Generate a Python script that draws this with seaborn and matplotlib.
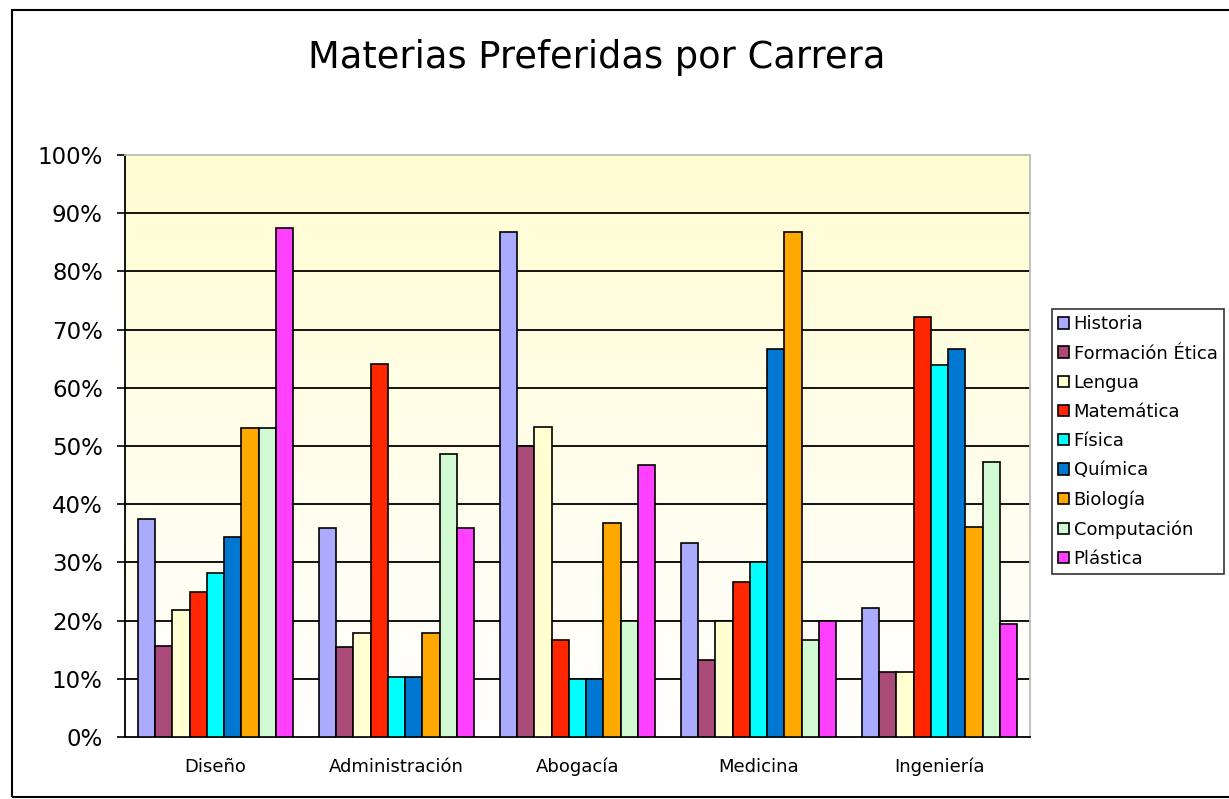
import numpy as np
import pandas as pd
import matplotlib
matplotlib.use("Agg")
import matplotlib.pyplot as plt
import seaborn as sns
from matplotlib.patches import Patch, Rectangle
from matplotlib.ticker import FixedLocator

carreras = ["Diseño", "Administración", "Abogacía", "Medicina", "Ingeniería"]
materias = ["Historia", "Formación Ética", "Lengua", "Matemática", "Física",
            "Química", "Biología", "Computación", "Plástica"]

# porcentaje por carrera, en el orden de materias
diseno = [37.5, 15.6, 21.9, 25.0, 28.1, 34.4, 53.1, 53.1, 87.5]
administracion = [35.9, 15.4, 17.9, 64.1, 10.3, 10.3, 17.9, 48.7, 35.9]
abogacia = [86.7, 50.0, 53.3, 16.7, 10.0, 10.0, 36.7, 20.0, 46.7]
medicina = [33.3, 13.3, 20.0, 26.7, 30.0, 66.7, 86.7, 16.7, 20.0]
ingenieria = [22.2, 11.1, 11.1, 72.2, 63.9, 66.7, 36.1, 47.2, 19.4]

colores = ["#AAAAFF", "#AA4A78", "#FFFFD2", "#FF2600", "#00FFFF",
           "#0078D2", "#FFA800", "#D2FAD2", "#FF40FF"]

valores = [diseno, administracion, abogacia, medicina, ingenieria]
filas = []
for c, vals in zip(carreras, valores):
    for m, v in zip(materias, vals):
        filas.append({"carrera": c, "materia": m, "pct": v})
df = pd.DataFrame(filas)

sns.set_style("white")
plt.rcParams["font.family"] = ["DejaVu Sans"]
plt.rcParams["text.color"] = "black"
plt.rcParams["xtick.color"] = "black"
plt.rcParams["ytick.color"] = "black"

fig = plt.figure(figsize=(12.29, 7.99), dpi=100)
ax = fig.add_axes([125 / 1229, 1 - 737 / 799, 905 / 1229, 582 / 799])

# fondo degradado amarillo claro -> blanco
grad = np.linspace(0, 1, 256).reshape(-1, 1)
cmap = matplotlib.colors.LinearSegmentedColormap.from_list("fondo", ["#FFFFFF", "#FFFCD2"])
ax.imshow(grad, aspect="auto", cmap=cmap, origin="lower",
          extent=[-0.5, 4.5, 0, 100], zorder=0)

sns.barplot(data=df, x="carrera", y="pct", hue="materia", order=carreras,
            hue_order=materias, palette=colores, width=0.86, saturation=1,
            edgecolor="black", linewidth=1.2, errorbar=None, legend=False,
            zorder=3, ax=ax)

ax.set_xlim(-0.5, 4.5)
ax.set_ylim(0, 100)
ax.set_yticks(range(0, 101, 10))
ax.set_yticklabels([f"{v}%" for v in range(0, 101, 10)], fontsize=16.5)
for v in range(10, 100, 10):
    ax.axhline(v, color="black", linewidth=1.3, zorder=1)

ax.set_xticks(range(len(carreras)))
ax.set_xticklabels(carreras, fontsize=13)
ax.xaxis.set_minor_locator(FixedLocator([-0.5, 0.5, 1.5, 2.5, 3.5, 4.5]))
ax.tick_params(axis="x", which="major", length=0, pad=15)
ax.tick_params(axis="x", which="minor", length=6, width=1.2, color="black", direction="out")
ax.tick_params(axis="y", length=6, width=1.2, color="black", direction="out", left=True, pad=10)
ax.set_xlabel("")
ax.set_ylabel("")

for lado in ["left", "bottom"]:
    ax.spines[lado].set_color("black")
    ax.spines[lado].set_linewidth(1.3)
for lado in ["top", "right"]:
    ax.spines[lado].set_color("#BBBBBB")
    ax.spines[lado].set_linewidth(1.3)

fig.text(597 / 1229, 1 - 58 / 799, "Materias Preferidas por Carrera",
         ha="center", va="center", fontsize=26.5, color="black")

handles = [Patch(facecolor=c, edgecolor="black", linewidth=1.2) for c in colores]
leg = fig.legend(handles, materias, loc="upper left",
                 bbox_to_anchor=(1052 / 1229, 1 - 309 / 799), fontsize=13,
                 frameon=True, fancybox=False, handlelength=0.6, handleheight=0.6,
                 handletextpad=0.25, labelspacing=0.62, borderpad=0.35,
                 borderaxespad=0)
leg.get_frame().set_edgecolor("black")
leg.get_frame().set_linewidth(1.2)

fig.patches.append(Rectangle((12 / 1229, 2 / 799), 1.1, 787 / 799,
                             transform=fig.transFigure, fill=False,
                             edgecolor="black", linewidth=1.5))

fig.savefig("out.png", dpi=100)
